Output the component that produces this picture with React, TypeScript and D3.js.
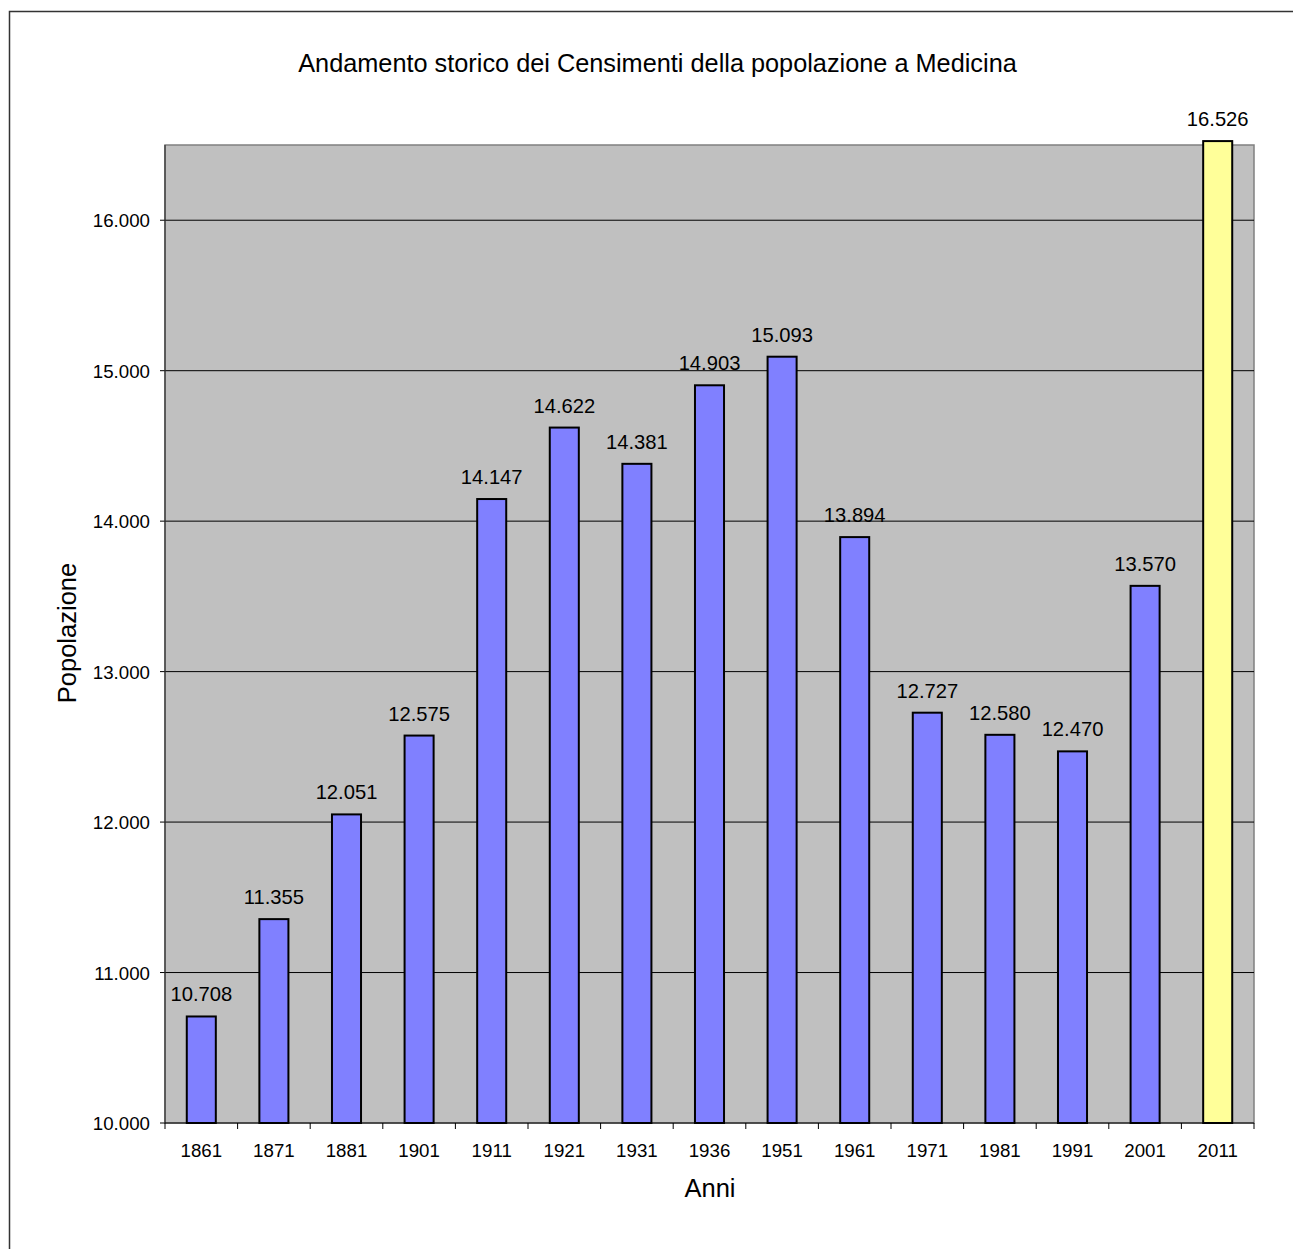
import React from "react";
import * as d3 from "d3";

const years = ["1861","1871","1881","1901","1911","1921","1931","1936","1951","1961","1971","1981","1991","2001","2011"];
const population = [10708,11355,12051,12575,14147,14622,14381,14903,15093,13894,12727,12580,12470,13570,16526];
const highlighted = ["2011"];
const yTicks = [10000,11000,12000,13000,14000,15000,16000];
const title = "Andamento storico dei Censimenti della popolazione a Medicina";
const xTitle = "Anni";
const yTitle = "Popolazione";

const W = 1293, H = 1249;
const plot = { left: 165, right: 1254, top: 145, bottom: 1123 };
const FONT = "'Liberation Sans', Arial, sans-serif";

const fmt = (v: number) => d3.format(",")(v).replace(/,/g, ".");

export default function App() {
  const x = d3.scaleBand<string>().domain(years).range([plot.left, plot.right]).paddingInner(0.6).paddingOuter(0.3);
  const xb = d3.scaleBand<string>().domain(years).range([plot.left, plot.right]);
  const y = d3.scaleLinear().domain([10000, 16500]).range([plot.bottom, plot.top]);
  return (
    <div style={{ position: "absolute", left: 0, top: 0 }}>
      <svg width={W} height={H} style={{ display: "block", fontFamily: FONT }}>
        <rect x={0} y={0} width={W} height={H} fill="#fff" />
        <rect x={9.5} y={11.5} width={1400} height={1400} fill="none" stroke="#333" strokeWidth={1.5} />
        <text x={657.5} y={72} textAnchor="middle" fontSize={25.3} fill="#000">{title}</text>
        <rect x={plot.left} y={plot.top} width={plot.right - plot.left} height={plot.bottom - plot.top} fill="#c0c0c0" stroke="#808080" strokeWidth={1.5} />
        {yTicks.map((t) => (
          <g key={t}>
            {t > 10000 && <line x1={plot.left} x2={plot.right} y1={y(t)} y2={y(t)} stroke="#000" strokeWidth={1} />}
            <line x1={plot.left - 5} x2={plot.left} y1={y(t)} y2={y(t)} stroke="#000" strokeWidth={1} />
            <text x={150} y={y(t) + 7} textAnchor="end" fontSize={18.7} fill="#000">{fmt(t)}</text>
          </g>
        ))}
        <line x1={plot.left} x2={plot.left} y1={plot.top} y2={plot.bottom} stroke="#333" strokeWidth={1.2} />
        {years.map((yr, i) => {
          const v = population[i];
          const bx = x(yr)!;
          const bw = x.bandwidth();
          const top = y(v);
          return (
            <g key={yr}>
              <rect x={bx} y={top} width={bw} height={plot.bottom - top}
                fill={highlighted.includes(yr) ? "#ffff99" : "#8080ff"} stroke="#000" strokeWidth={2} />
              <text x={bx + bw / 2} y={top - 15} textAnchor="middle" fontSize={20.2} fill="#000">{fmt(v)}</text>
              <text x={xb(yr)! + xb.bandwidth() / 2} y={1157} textAnchor="middle" fontSize={18.7} fill="#000">{yr}</text>
            </g>
          );
        })}
        <line x1={plot.left} x2={plot.right} y1={plot.bottom} y2={plot.bottom} stroke="#000" strokeWidth={1.2} />
        {[...years.map((yr) => xb(yr)!), plot.right].map((px, i) => (
          <line key={i} x1={px} x2={px} y1={plot.bottom} y2={plot.bottom + 6} stroke="#000" strokeWidth={1} />
        ))}
        <text x={710} y={1197} textAnchor="middle" fontSize={25.5} fill="#000">{xTitle}</text>
        <text transform={`translate(76,633) rotate(-90)`} textAnchor="middle" fontSize={25.5} fill="#000">{yTitle}</text>
      </svg>
    </div>
  );
}
